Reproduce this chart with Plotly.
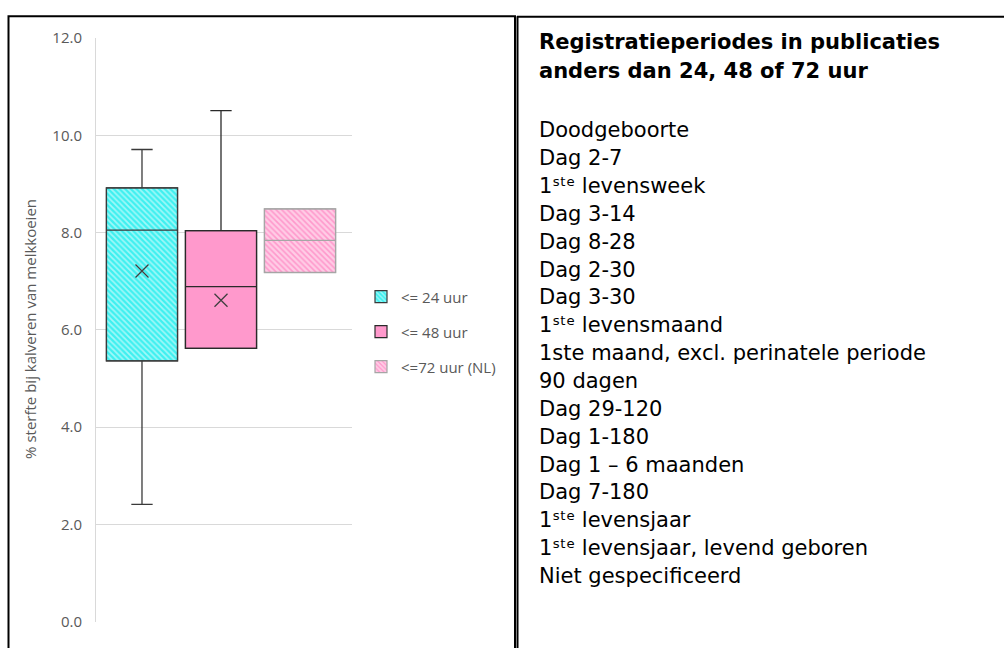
import plotly.graph_objects as go

# ---- data ----
series_names = ["<= 24 uur", "<= 48 uur", "<=72 uur (NL)"]
q1_vals = [5.36, 5.62, 7.18]
median_vals = [8.05, 6.89, 7.84]
q3_vals = [8.92, 8.04, 8.49]
low_vals = [2.41, 5.62, 7.18]
high_vals = [9.71, 10.51, 8.49]
mean_vals = [7.21, 6.61, None]
y_ticks = [0, 2, 4, 6, 8, 10, 12]

SUP = "\u02e2\u1d57\u1d49"  # superscript "ste"
panel_title = ["Registratieperiodes in publicaties", "anders dan 24, 48 of 72 uur"]
periods = [
    "Doodgeboorte",
    "Dag 2-7",
    "1" + SUP + " levensweek",
    "Dag 3-14",
    "Dag 8-28",
    "Dag 2-30",
    "Dag 3-30",
    "1" + SUP + " levensmaand",
    "1ste maand, excl. perinatele periode",
    "90 dagen",
    "Dag 29-120",
    "Dag 1-180",
    "Dag 1 \u2013 6 maanden",
    "Dag 7-180",
    "1" + SUP + " levensjaar",
    "1" + SUP + " levensjaar, levend geboren",
    "Niet gespecificeerd",
]

# ---- styles ----
W, H = 1004, 648
box_line = ["#3a3a3a", "#2a2a2a", "#a6a6a6"]
patterns = [
    dict(shape="\\", fgcolor="#ffffff", bgcolor="#3ef0f0", size=4, solidity=0.45),
    dict(shape="", fgcolor="#ff99cc", bgcolor="#ff99cc"),
    dict(shape="\\", fgcolor="#ffffff", bgcolor="#ff99cc", size=4, solidity=0.6),
]
positions = [0, 1, 2]
bw = 0.9
left_font = "Open Sans"
text_size = 21

fig = go.Figure()
for i, name in enumerate(series_names):
    fig.add_trace(go.Bar(
        x=[positions[i]], base=[q1_vals[i]], y=[q3_vals[i] - q1_vals[i]],
        width=bw, name=name, legendgroup=name,
        marker=dict(color=patterns[i]["bgcolor"], pattern=patterns[i],
                    line=dict(color=box_line[i], width=1.2)),
        hoverinfo="skip",
    ))
for i, name in enumerate(series_names):
    fig.add_trace(go.Box(
        x=[positions[i]], q1=[q1_vals[i]], median=[median_vals[i]], q3=[q3_vals[i]],
        lowerfence=[low_vals[i]], upperfence=[high_vals[i]],
        orientation="v", width=bw, whiskerwidth=0.3,
        fillcolor="rgba(0,0,0,0)", line=dict(color=box_line[i], width=1.3),
        boxpoints=False, showlegend=False, legendgroup=name, hoverinfo="skip",
    ))
mx = [positions[i] for i in range(3) if mean_vals[i] is not None]
my = [m for m in mean_vals if m is not None]
fig.add_trace(go.Scatter(
    x=mx, y=my, mode="markers", showlegend=False, hoverinfo="skip",
    marker=dict(symbol="x-thin", size=13, line=dict(color="#404040", width=1.3)),
))

# plot area in pixels
px0, px1, py0, py1 = 96, 352, 28, 630
fig.update_layout(
    width=W, height=H, margin=dict(l=0, r=0, t=0, b=0),
    paper_bgcolor="white", plot_bgcolor="white",
    barmode="overlay", boxmode="overlay",
    font=dict(family=left_font, size=15, color="#595959"),
    xaxis=dict(domain=[px0 / W, px1 / W], range=[-0.582, 2.658],
               showticklabels=False, showgrid=False, zeroline=False, showline=False,
               fixedrange=True),
    yaxis=dict(domain=[1 - py1 / H, 1 - py0 / H], range=[0, 12],
               tickvals=y_ticks, tickformat=".1f", showgrid=True,
               gridcolor="#d9d9d9", gridwidth=1, zeroline=False,
               showline=True, linecolor="#d9d9d9", linewidth=1,
               ticklabelstandoff=10, tickfont=dict(family=left_font, size=15, color="#595959"),
               fixedrange=True),
    legend=dict(x=361 / W, y=1 - 278 / H, xanchor="left", yanchor="top",
                font=dict(family=left_font, size=15, color="#595959"),
                tracegroupgap=12.5, bgcolor="rgba(0,0,0,0)"),
    showlegend=True,
)

# y-axis title
fig.add_annotation(
    text="% sterfte bij kalveren van melkkoeien", textangle=-90,
    xref="paper", yref="paper", x=30 / W, y=1 - 328 / H,
    xanchor="center", yanchor="middle", showarrow=False,
    font=dict(family=left_font, size=15, color="#595959"),
)

# panel borders
fig.add_shape(type="rect", xref="paper", yref="paper",
              x0=8.5 / W, x1=515 / W, y0=-0.1, y1=1 - 5.5 / H,
              line=dict(color="black", width=2), layer="above")
fig.add_shape(type="line", xref="paper", yref="paper",
              x0=517.5 / W, x1=517.5 / W, y0=-0.1, y1=1 - 5.5 / H,
              line=dict(color="black", width=2))
fig.add_shape(type="line", xref="paper", yref="paper",
              x0=517 / W, x1=1.01, y0=1 - 6 / H, y1=1 - 6 / H,
              line=dict(color="black", width=2))

# right panel text
tx = 537 / W
for k, line in enumerate(panel_title):
    fig.add_annotation(text="<b>" + line + "</b>", xref="paper", yref="paper",
                       x=tx, y=1 - (32 + 30 * k) / H, xanchor="left", yanchor="middle",
                       showarrow=False,
                       font=dict(family="DejaVu Sans", size=text_size, color="black"))
for k, line in enumerate(periods):
    fig.add_annotation(text=line, xref="paper", yref="paper",
                       x=tx, y=1 - (123 + 28.75 * k) / H, xanchor="left", yanchor="middle",
                       showarrow=False,
                       font=dict(family="DejaVu Sans", size=text_size, color="black"))

fig.write_html(
    "out.html",
    config={"displayModeBar": False, "staticPlot": True},
    post_script=("document.documentElement.style.margin='0';"
                 "document.body.style.margin='0';"
                 "document.body.style.overflow='hidden';"),
)
